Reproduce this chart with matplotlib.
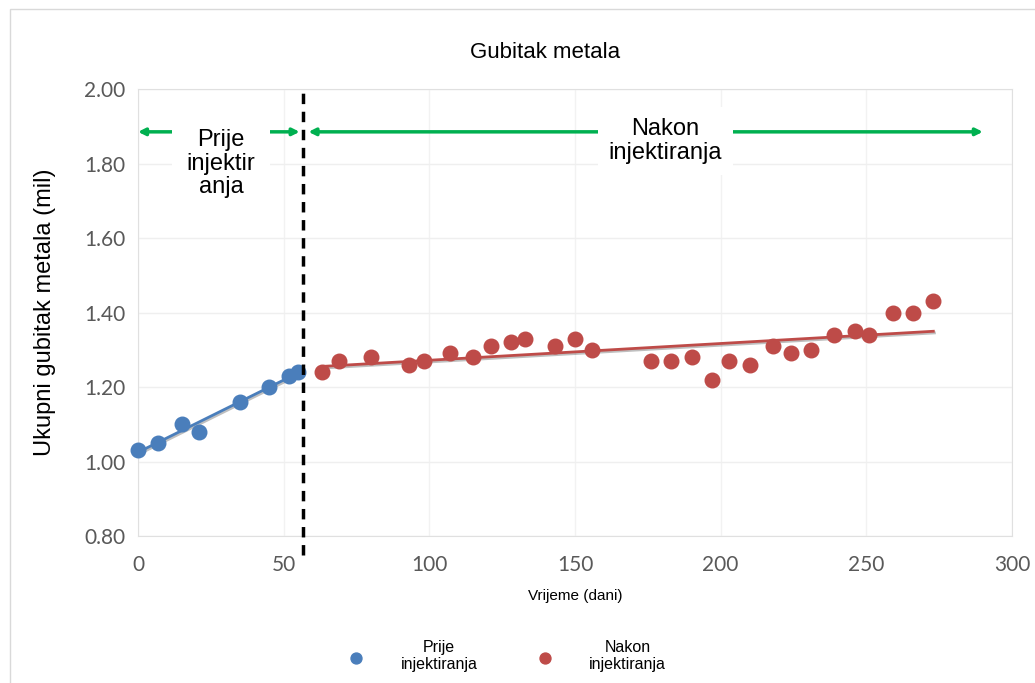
import numpy as np
import matplotlib
matplotlib.use("Agg")
import matplotlib.pyplot as plt
import matplotlib.patheffects as pe
from matplotlib.patches import Rectangle

plt.rcParams['font.family'] = ['Liberation Sans', 'DejaVu Sans']

# podaci prije injektiranja
prije_dani = [0, 7, 15, 21, 35, 45, 52, 55]
prije_gubitak = [1.03, 1.05, 1.10, 1.08, 1.16, 1.20, 1.23, 1.24]

# podaci nakon injektiranja
nakon_dani = [63, 69, 80, 93, 98, 107, 115, 121, 128, 133, 143, 150, 156,
              176, 183, 190, 197, 203, 210, 218, 224, 231, 239, 246, 251,
              259, 266, 273]
nakon_gubitak = [1.24, 1.27, 1.28, 1.26, 1.27, 1.29, 1.28, 1.31, 1.32, 1.33,
                 1.31, 1.33, 1.30, 1.27, 1.27, 1.28, 1.22, 1.27, 1.26, 1.31,
                 1.29, 1.30, 1.34, 1.35, 1.34, 1.40, 1.40, 1.43]

x_ticks = [0, 50, 100, 150, 200, 250, 300]
y_ticks = [0.80, 1.00, 1.20, 1.40, 1.60, 1.80, 2.00]
granica = 56.5

plava = '#4A7EBB'
crvena = '#BE4B48'
zelena = '#00B050'

fig = plt.figure(figsize=(10.35, 6.83), dpi=100)
fig.patches.append(Rectangle((10 / 1035, -0.1), 1.2, 1 - 9 / 683 + 0.1,
                             transform=fig.transFigure, fill=False,
                             edgecolor='#D9D9D9', lw=1))
ax = fig.add_axes([138 / 1035, 1 - 536 / 683, (1012 - 138) / 1035, (536 - 89) / 683])

ax.set_xlim(0, 300)
ax.set_ylim(0.80, 2.00)
ax.set_xticks(x_ticks)
ax.set_yticks(y_ticks)
ax.set_xticks([100, 200], minor=True)
ax.set_xticklabels([str(v) for v in x_ticks])
ax.set_yticklabels(['%.2f' % v for v in y_ticks])
ax.tick_params(which='both', length=0, labelsize=15, labelcolor='#595959')
ax.tick_params(axis='x', pad=14)
ax.tick_params(axis='y', pad=9)
for lbl in ax.get_xticklabels() + ax.get_yticklabels():
    lbl.set_family(['Lato', 'DejaVu Sans'])
ax.grid(axis='y', color='#EFEFEF', lw=1)
ax.grid(axis='x', which='major', color='#F2F2F2', lw=1)
ax.grid(axis='x', which='minor', color='#D9D9D9', lw=1)
ax.set_axisbelow(True)
for s in ax.spines.values():
    s.set_color('#E0E0E0')

# trend linije
for dani, vrijednosti, boja in [(prije_dani, prije_gubitak, plava),
                                (nakon_dani, nakon_gubitak, crvena)]:
    k, n = np.polyfit(dani, vrijednosti, 1)
    xs = np.array([min(dani), max(dani)])
    ax.plot(xs, k * xs + n, color=boja, lw=2, zorder=2,
            path_effects=[pe.SimpleLineShadow(offset=(0.8, -1.2), alpha=0.25), pe.Normal()])

ax.scatter(prije_dani, prije_gubitak, s=110, color=plava, zorder=3, clip_on=False,
           label='Prije\ninjektiranja')
ax.scatter(nakon_dani, nakon_gubitak, s=110, color=crvena, zorder=3, clip_on=False,
           label='Nakon\ninjektiranja')

# granica injektiranja
ax.plot([granica, granica], [0.75, 2.00], color='black', lw=2.5,
        linestyle=(0, (3, 2.2)), clip_on=False, zorder=4)

# strelice
strelica = dict(arrowstyle='<|-|>', color=zelena, lw=2.5, mutation_scale=10,
                shrinkA=0, shrinkB=0)
ax.annotate('', xy=(0, 1.885), xytext=(55.5, 1.885), arrowprops=strelica, zorder=5)
ax.annotate('', xy=(58.5, 1.885), xytext=(290, 1.885), arrowprops=strelica, zorder=5)

ax.text(28.5, 1.80, 'Prije\ninjektir\nanja', ha='center', va='center', fontsize=17,
        linespacing=1.1, zorder=6,
        bbox=dict(boxstyle='square,pad=0.6', fc='white', ec='none'))
ax.text(181, 1.86, 'Nakon\ninjektiranja', ha='center', va='center', fontsize=17,
        linespacing=1.15, zorder=6,
        bbox=dict(boxstyle='square,pad=0.45', fc='white', ec='none'))

fig.text(545 / 1035, 1 - 52 / 683, 'Gubitak metala', ha='center', va='center', fontsize=16)
ax.set_xlabel('Vrijeme (dani)', fontsize=11, labelpad=10)
ax.set_ylabel('Ukupni gubitak metala (mil)', fontsize=17, labelpad=20)

leg = fig.legend(loc='center', bbox_to_anchor=(503 / 1035, 1 - 656 / 683), ncol=2,
                 frameon=False, fontsize=11.5, markerscale=0.75, handletextpad=1.8,
                 columnspacing=3.2)
for t in leg.get_texts():
    t.set_multialignment('center')

fig.savefig('out.png', dpi=100)
